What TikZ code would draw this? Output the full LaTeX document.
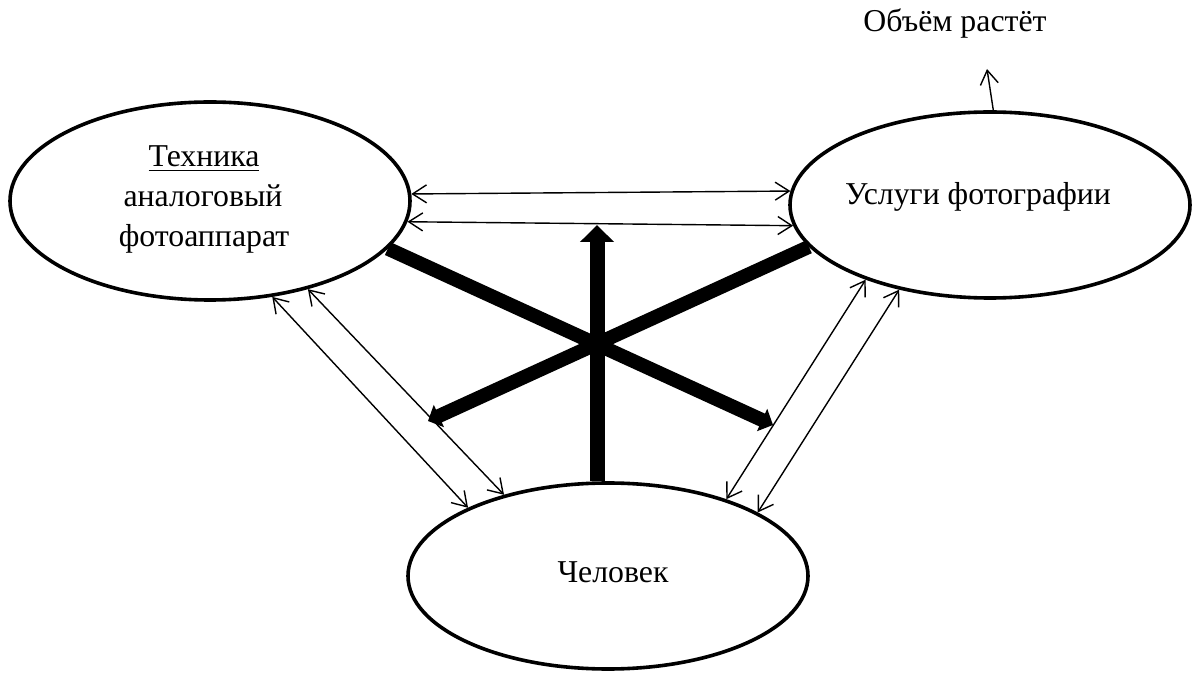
\documentclass[tikz,border=0pt]{standalone}
\usepackage{fontspec}
\setmainfont{Liberation Serif}
\usetikzlibrary{shapes.geometric,arrows.meta}
\begin{document}
\begin{tikzpicture}[x=0.5pt,y=-0.5pt,
  oval/.style={draw,ellipse,line width=1.8pt,inner sep=0pt},
  caption/.style={font=\fontsize{15.9}{20}\selectfont,anchor=base,inner sep=0pt},
  link/.style={line width=0.7pt,{Straight Barb[length=7pt,width=9pt]}-{Straight Barb[length=7pt,width=9pt]}},
  push/.style={line width=7pt,-{Triangle[width=12pt,length=6pt]}},
  lift/.style={line width=7.5pt,-{Triangle[width=16.5pt,length=8.5pt]}},
  rise/.style={line width=0.7pt,-{Straight Barb[length=7pt,width=9pt]}}]
\useasboundingbox (0,0) rectangle (1194,673);
\fill[white] (0,0) rectangle (1194,673);

% the three ovals
\node[oval,minimum width=200pt,minimum height=99pt] (tech) at (210,201) {};
\node[oval,minimum width=200pt,minimum height=93pt] (serv) at (990,205) {};
\node[oval,minimum width=200pt,minimum height=93pt] (man) at (608,576) {};

% their texts
\node[caption] (techA) at (204,167) {\underline{Техника}};
\node[caption] (techB) at (203,207) {аналоговый};
\node[caption] (techC) at (204,247) {фотоаппарат};
\node[caption] (servT) at (978,205) {Услуги фотографии};
\node[caption] (manT) at (613,582) {Человек};
\node[caption] (vol) at (955,32) {Объём растёт};

% two-way links
\draw[link] (tech.2.3) -- (serv.176.5);
\draw[link] (tech.-6.3) -- (serv.-174.8);
\draw[link] (tech.-57.7) -- (man.154.2);
\draw[link] (tech.-42.6) -- (man.142.7);
\draw[link] (serv.-149.7) -- (man.33.2);
\draw[link] (serv.-137.5) -- (man.23.7);

% heavy arrows
\coordinate (pushR) at (773,425);
\coordinate (pushL) at (428,421);
\coordinate (liftTop) at (597,225);
\draw[push] (tech.-15.9) -- (pushR);
\draw[push] (serv.193.4) -- (pushL);
\draw[lift] (liftTop |- man.north) -- (liftTop);

% growth arrow
\coordinate (volTip) at (987,69);
\draw[rise] (serv.88.2) -- (volTip);
\end{tikzpicture}
\end{document}
